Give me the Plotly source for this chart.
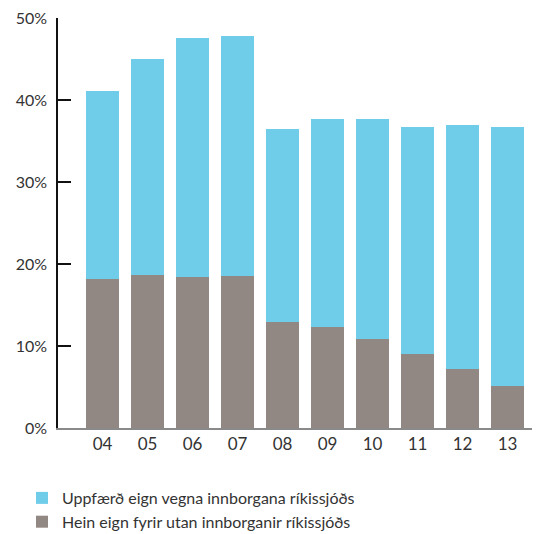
import plotly.graph_objects as go

years = ["04", "05", "06", "07", "08", "09", "10", "11", "12", "13"]
hein_eign = [18.2, 18.7, 18.4, 18.5, 12.9, 12.3, 10.8, 9.0, 7.2, 5.1]
uppfaerd = [22.9, 26.3, 29.2, 29.3, 23.6, 25.4, 26.9, 27.7, 29.7, 31.6]
y_ticks = [0, 10, 20, 30, 40, 50]
y_tick_text = ["0%", "10%", "20%", "30%", "40%", "50%"]

name_blue = "Uppfærð eign vegna innborgana ríkissjóðs"
name_brown = "Hein eign fyrir utan innborganir ríkissjóðs"

W, H = 532, 526  # page body has an 8px margin

fig = go.Figure()
fig.add_trace(go.Bar(x=years, y=hein_eign, name=name_brown,
                     marker=dict(color="#928883", line=dict(width=0))))
fig.add_trace(go.Bar(x=years, y=uppfaerd, name=name_blue,
                     marker=dict(color="#70cdea", line=dict(width=0))))

fig.update_layout(
    width=W, height=H,
    barmode="stack", bargap=0.27,
    margin=dict(l=50, r=0, t=10, b=106, autoexpand=False),
    plot_bgcolor="white", paper_bgcolor="white",
    font=dict(family="Lato, Noto Sans, sans-serif", size=16, color="#333333"),
    showlegend=True,
    legend=dict(orientation="v", xref="container", yref="container",
                x=14 / W, xanchor="left", y=1 - 473 / H, yanchor="top",
                traceorder="reversed", font=dict(size=16, color="#333333"),
                itemwidth=30, tracegroupgap=0, bgcolor="rgba(0,0,0,0)"),
    xaxis=dict(type="category", range=[-0.99, 9.72], showline=True,
               linecolor="#8a8a8a", linewidth=2, ticks="", showgrid=False,
               tickfont=dict(size=17, color="#333333"), fixedrange=True,
               automargin=False),
    yaxis=dict(range=[0, 50], tickvals=y_ticks, ticktext=y_tick_text, showline=True,
               linecolor="#111111", linewidth=1.5, ticks="inside", ticklen=13,
               tickcolor="#111111", tickwidth=1.5, showgrid=False, zeroline=False,
               tickfont=dict(size=16, color="#333333"), ticklabelstandoff=6,
               ticklabeloverflow="allow", automargin=False),
)

fig.write_html("out.html")
